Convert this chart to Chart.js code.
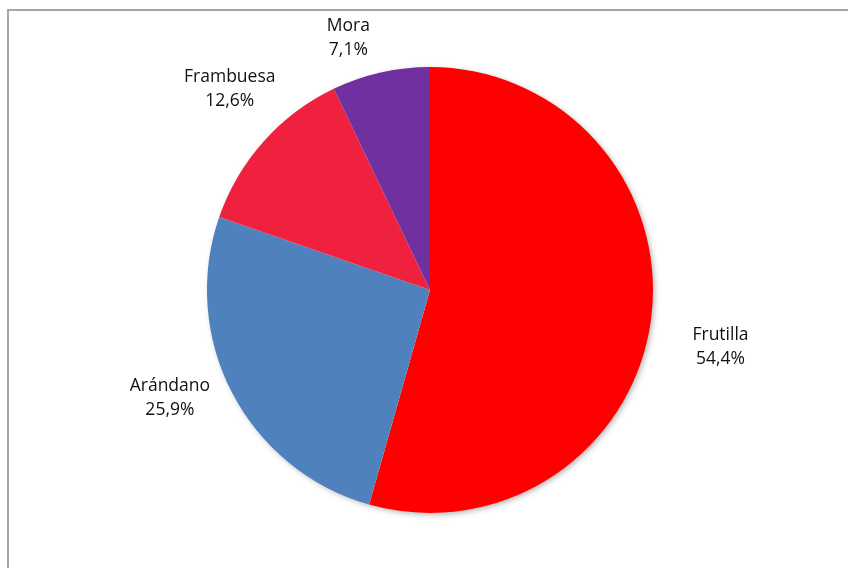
<!DOCTYPE html>
<html>
<head>
<meta charset="utf-8">
<script src="https://cdn.jsdelivr.net/npm/chart.js@4"></script>
<style>
  html, body { margin: 0; padding: 0; background: #fff; }
  #wrap { width: 848px; height: 568px; position: relative; }
</style>
</head>
<body>
<div id="wrap"><canvas id="myChart" width="848" height="568"></canvas></div>
<script>
var labels = ["Frutilla", "Arándano", "Frambuesa", "Mora"];
var values = [54.4, 25.9, 12.6, 7.1];
var sliceColors = ["#ff0000", "#4f81bd", "#f0203f", "#7030a0"];

function fmtPct(v) {
    var total = values.reduce(function (a, b) { return a + b; }, 0);
    return (v / total * 100).toFixed(1).replace(".", ",") + "%";
}

// frame + soft shadow behind the pie
var frame = {
    id: "frame",
    beforeDatasetsDraw: function (chart) {
        var ctx = chart.ctx;
        var arc = chart.getDatasetMeta(0).data[0];
        ctx.save();
        ctx.strokeStyle = "#a6a6a6";
        ctx.lineWidth = 2;
        ctx.strokeRect(8, 10, 900, 600);
        ctx.shadowColor = "rgba(0,0,0,0.35)";
        ctx.shadowBlur = 6;
        ctx.shadowOffsetX = 2;
        ctx.shadowOffsetY = 2;
        ctx.fillStyle = "#fff";
        ctx.beginPath();
        ctx.arc(arc.x, arc.y, arc.outerRadius - 1, 0, Math.PI * 2);
        ctx.fill();
        ctx.restore();
    }
};

// outside labels like excel's best fit
var outLabels = {
    id: "outLabels",
    afterDatasetsDraw: function (chart, args, opts) {
        var ctx = chart.ctx;
        var meta = chart.getDatasetMeta(0);
        ctx.save();
        ctx.font = "17.5px 'Open Sans'";
        ctx.fillStyle = "#111";
        ctx.textAlign = "center";
        ctx.textBaseline = "middle";
        meta.data.forEach(function (a, i) {
            var mid = (a.startAngle + a.endAngle) / 2;
            var r = a.outerRadius * 1.27;
            var off = opts.offsets[i] || [0, 0];
            var x = a.x + Math.cos(mid) * r + off[0];
            var y = a.y + Math.sin(mid) * r + off[1];
            ctx.fillText(labels[i], x, y - 12);
            ctx.fillText(fmtPct(values[i]), x, y + 12);
        });
        ctx.restore();
    }
};

new Chart("myChart", {
    type: "pie",
    data: {
        labels: labels,
        datasets: [{
            data: values,
            backgroundColor: sliceColors,
            borderWidth: 0
        }]
    },
    options: {
        responsive: false,
        animation: false,
        layout: { padding: { top: 67, bottom: 55, left: 207, right: 195 } },
        plugins: {
            legend: { display: false },
            tooltip: { enabled: false },
            outLabels: { offsets: [[10, 18], [-9, -23], [11, -12], [-19, 24]] }
        }
    },
    plugins: [frame, outLabels]
});
</script>
</body>
</html>
